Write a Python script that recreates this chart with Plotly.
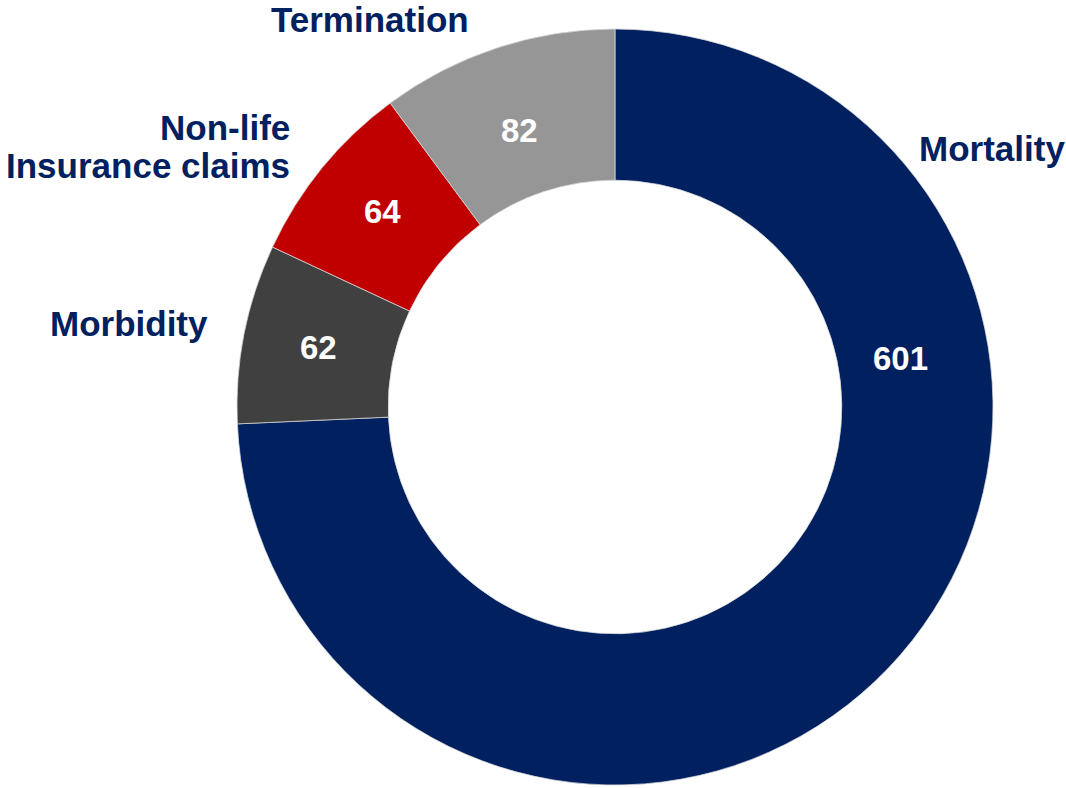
import plotly.graph_objects as go

# Claims by risk type
categories = ["Mortality", "Morbidity", "Non-life<br>Insurance claims", "Termination"]
values = [601, 62, 64, 82]
colors = ["#002060", "#404040", "#C00000", "#969696"]

W, H = 1066, 788
FONT = "Liberation Sans, Arial, sans-serif"
NAVY = "#002060"

# Pie geometry in pixels: centre and outer radius
CX, CY, R = 615, 407, 378

# Category label anchors (pixels): x, y of first line, xanchor
label_style = {
    "Mortality": (917, 148, "left"),
    "Morbidity": (210, 323, "right"),
    "Non-life<br>Insurance claims": (292, 127, "right"),
    "Termination": (370, 20, "center"),
}
LINE_GAP = 38
# Value label centres (pixels), one per slice
value_style = {
    "Mortality": (900, 358),
    "Morbidity": (318, 347),
    "Non-life<br>Insurance claims": (382, 211),
    "Termination": (519, 130),
}


def px(x):
    return x / W


def py(y):
    return 1 - y / H


fig = go.Figure(
    go.Pie(
        labels=categories,
        values=values,
        hole=0.6,
        sort=False,
        direction="clockwise",
        rotation=0,
        marker=dict(colors=colors, line=dict(color="#d9d9d9", width=0.75)),
        textinfo="none",
        showlegend=False,
        hoverinfo="label+value",
        domain=dict(x=[px(CX - R), px(CX + R)], y=[py(CY + R), py(CY - R)]),
    )
)

annotations = []
for cat, val in zip(categories, values):
    x, y, anchor = label_style[cat]
    for i, line in enumerate(cat.split("<br>")):
        annotations.append(
            dict(
                x=px(x), y=py(y + i * LINE_GAP), xref="paper", yref="paper",
                text=line, showarrow=False, xanchor=anchor, yanchor="middle",
                font=dict(family=FONT, size=35, color=NAVY, weight="bold"),
            )
        )
    vx, vy = value_style[cat]
    annotations.append(
        dict(
            x=px(vx), y=py(vy), xref="paper", yref="paper",
            text=str(val), showarrow=False, xanchor="center", yanchor="middle",
            font=dict(family=FONT, size=33, color="white", weight="bold"),
        )
    )

fig.update_layout(
    width=W,
    height=H,
    margin=dict(l=0, r=0, t=0, b=0),
    paper_bgcolor="white",
    plot_bgcolor="white",
    annotations=annotations,
)

fig.write_html("out.html")
